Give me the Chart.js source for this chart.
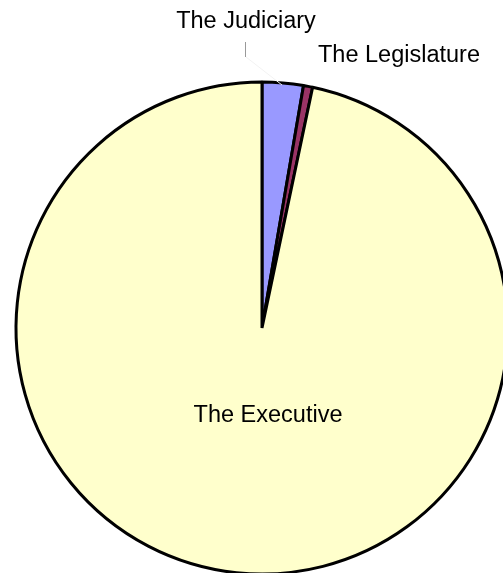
<!DOCTYPE html>
<html>
<head>
<meta charset="utf-8">
<script src="https://cdn.jsdelivr.net/npm/chart.js@4/dist/chart.umd.min.js"></script>
<style>
    html, body { margin: 0; padding: 0; background: #fff; overflow: hidden; }
    #wrap { position: absolute; left: 0; top: 0; width: 524px; height: 656px; }
</style>
</head>
<body>
<div id="wrap"><canvas id="chartBranches"></canvas></div>
<script>
/**
 * Branches
 */
const branches = ['The Judiciary', 'The Legislature', 'The Executive'];

/**
 * Shares (percent)
 */
const shares = [2.7, 0.6, 96.7];

/**
 * Colors
 */
const colors = ['#9999ff', '#993366', '#ffffcc'];

/**
 * Labels
 */
const branchLabels = {
    id: 'branchLabels',
    afterDatasetsDraw(chart) {
        const ctx = chart.ctx;
        const arc = chart.getDatasetMeta(0).data[0];
        const cx = arc.x, cy = arc.y;

        ctx.save();
        ctx.font = '23.5px "Liberation Sans", Arial, sans-serif';
        ctx.fillStyle = '#000';
        ctx.textBaseline = 'alphabetic';

        /**
         * Leader line
         */
        ctx.strokeStyle = '#999';
        ctx.lineWidth = 1;
        ctx.beginPath();
        ctx.moveTo(cx - 16.5, cy - 286);
        ctx.lineTo(cx - 16.5, cy - 271);
        ctx.stroke();
        ctx.strokeStyle = '#f2f2f2';
        ctx.beginPath();
        ctx.moveTo(cx - 16, cy - 271);
        ctx.lineTo(cx + 20, cy - 243);
        ctx.stroke();

        ctx.textAlign = 'center';
        ctx.fillText(branches[0], cx - 16, cy - 300);
        ctx.textAlign = 'left';
        ctx.fillText(branches[1], cx + 56, cy - 266);
        ctx.textAlign = 'center';
        ctx.fillText(branches[2], cx + 6, cy + 94);
        ctx.restore();
    }
};

/**
 * Chart
 */
new Chart(document.getElementById('chartBranches'), {
    type: 'pie',
    data: {
        labels: branches,
        datasets: [{
            data: shares,
            backgroundColor: colors,
            borderColor: '#000',
            borderWidth: 3
        }]
    },
    options: {
        responsive: true,
        maintainAspectRatio: false,
        animation: false,
        radius: 246,
        layout: { padding: 0 },
        plugins: {
            legend: { display: false },
            tooltip: { enabled: false }
        }
    },
    plugins: [branchLabels]
});
</script>
</body>
</html>
